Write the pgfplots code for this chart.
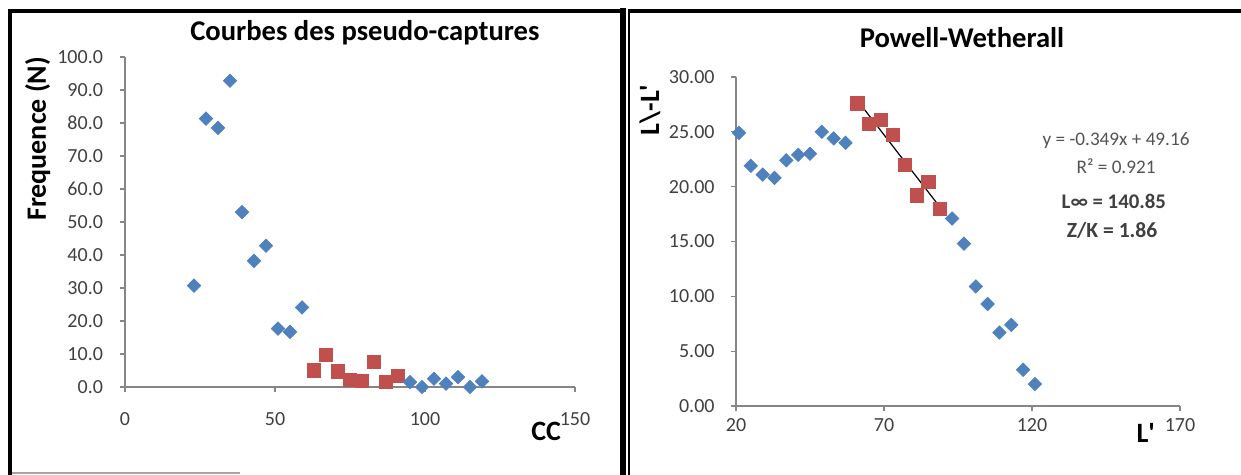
\documentclass[border=0pt]{standalone}
\usepackage{pgfplots}
\pgfplotsset{compat=1.18}
\usepackage{fontspec}
\setmainfont{Carlito}
\definecolor{xblue}{HTML}{4F81BD}
\definecolor{xred}{HTML}{C0504D}
\definecolor{axgray}{HTML}{868686}
\definecolor{txgray}{HTML}{404040}
\pgfplotsset{
  xlstyle/.style={
    scale only axis,
    clip=false,
    axis x line*=bottom,
    axis y line*=left,
    axis line style={-, axgray, line width=0.6pt},
    tick style={axgray, line width=0.6pt},
    tick align=outside,
    major tick length=2.5pt,
    minor tick num=0,
    ticklabel style={font=\fontsize{10}{12}\selectfont, text=txgray},
    /pgf/number format/assume math mode=true,
    title style={font=\fontsize{14.3}{16}\selectfont\bfseries, yshift=-6pt},
    label style={font=\fontsize{14}{16}\selectfont\bfseries},
  },
  bdiam/.style={only marks, mark=square*, mark size=2.35pt, mark options={rotate=45, fill=xblue, draw=xblue}},
  rsq/.style={only marks, mark=square*, mark size=3.3pt, mark options={fill=xred, draw=xred}},
}
\begin{document}
\begin{tikzpicture}
\useasboundingbox (0pt,0pt) rectangle (620.5pt,237.5pt);
% panel frames
\draw[line width=2pt] (5pt,0pt) -- (5pt,232pt) -- (311.5pt,232pt);
\draw[line width=3pt] (311.5pt,0pt) -- (311.5pt,233.5pt);
\draw[line width=1.2pt] (314.6pt,0pt) -- (314.6pt,232.5pt);
\draw[line width=2pt] (314pt,232.2pt) -- (620.5pt,232.2pt);
\draw[gray!70, line width=0.8pt] (6pt,1pt) -- (120pt,1pt);

\begin{axis}[xlstyle,
  at={(62.5pt,44pt)}, anchor=south west,
  width=225pt, height=165pt,
  xmin=0, xmax=150, ymin=0, ymax=100,
  xtick={0,50,100,150}, ytick={0,10,...,100},
  yticklabel style={/pgf/number format/.cd, fixed, fixed zerofill, precision=1},
  xticklabel shift=6.5pt,
  yticklabel shift=5pt,
  title={Courbes des pseudo-captures},
  title style={at={(rel axis cs:0.533,1.073)}, anchor=center},
  ylabel={Frequence (N)},
  ylabel style={at={(rel axis cs:-0.194,0.752)}, anchor=center},
  xlabel={CC},
  xlabel style={at={(rel axis cs:0.936,-0.136)}, anchor=center},
]
\addplot[bdiam] coordinates {(23,30.7) (27,81.3) (31,78.5) (35,92.8) (39,53.0) (43,38.2) (47,42.8) (51,17.7) (55,16.7) (59,24.1)};
\addplot[rsq] coordinates {(63,5.0) (67,9.8) (71,4.7) (75,2.2) (79,1.8) (83,7.6) (87,1.5) (91,3.3)};
\addplot[bdiam] coordinates {(95,1.5) (99,0.0) (103,2.5) (107,1.0) (111,3.0) (115,0.0) (119,1.7)};
\end{axis}

\begin{axis}[xlstyle,
  at={(368pt,34.5pt)}, anchor=south west,
  width=222pt, height=164.5pt,
  xmin=20, xmax=170, ymin=0, ymax=30,
  xtick={20,70,120,170}, ytick={0,5,...,30},
  yticklabel style={/pgf/number format/.cd, fixed, fixed zerofill, precision=2},
  xticklabel shift=0pt,
  yticklabel shift=4.7pt,
  title={Powell-Wetherall},
  title style={at={(rel axis cs:0.509,1.119)}, anchor=center},
  ylabel={L\textbackslash-L\textquotesingle},
  ylabel style={at={(rel axis cs:-0.194,0.9)}, anchor=center},
  xlabel={L\textquotesingle},
  xlabel style={at={(rel axis cs:0.923,-0.082)}, anchor=center},
]
\addplot[bdiam] coordinates {(21,24.9) (25,21.9) (29,21.1) (33,20.8) (37,22.4) (41,22.9) (45,23.0) (49,25.0) (53,24.4) (57,24.0)};
\addplot[rsq] coordinates {(61,27.6) (65,25.7) (69,26.1) (73,24.7) (77,22.0) (81,19.2) (85,20.4) (89,18.0)};
\addplot[bdiam] coordinates {(93,17.1) (97,14.8) (101,10.9) (105,9.3) (109,6.7) (113,7.4) (117,3.3) (121,2.0)};
\addplot[black, line width=0.6pt, no marks] coordinates {(61,27.87) (89,18.10)};
\node[font=\fontsize{9.6}{11}\selectfont, text=txgray!90] at (rel axis cs:0.856,0.808) {y = -0.349x + 49.16};
\node[font=\fontsize{9.6}{11}\selectfont, text=txgray!90] at (rel axis cs:0.856,0.729) {R² = 0.921};
\node[font=\fontsize{10.4}{12}\selectfont\bfseries, text=txgray] at (rel axis cs:0.851,0.623) {L∞ = 140.85};
\node[font=\fontsize{10.8}{12}\selectfont\bfseries, text=txgray] at (rel axis cs:0.847,0.535) {Z/K = 1.86};
\end{axis}
\end{tikzpicture}
\end{document}
